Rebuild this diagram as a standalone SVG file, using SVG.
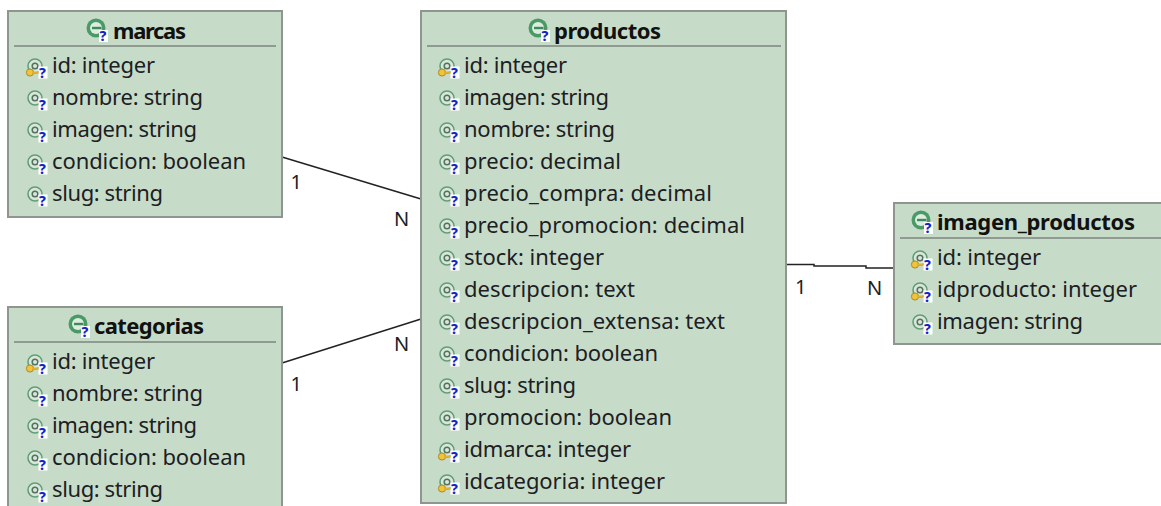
<svg xmlns="http://www.w3.org/2000/svg" width="1161" height="506" viewBox="0 0 1161 506">
<style>
text{font-family:"Noto Sans","Liberation Sans",sans-serif;fill:#1c2024}
.box{fill:#c7dcc8;stroke:#8f9690;stroke-width:2}
.sep{stroke:#7d857e;stroke-width:1.5}
.t{font-size:22px;font-weight:700;fill:#111}
.a{font-size:22px}
.m{font-size:20px}
.c{fill:none;stroke:#222;stroke-width:1.5}
.q{font-size:14px;font-weight:800;fill:#1424c8}
</style>
<defs>
<g id="q"><rect x="0" y="0" width="9" height="12" fill="#fff"/><text class="q" x="0.5" y="11">?</text></g>
<g id="ent"><circle cx="0" cy="0" r="9.5" fill="#4a9a68"/><circle cx="0" cy="0" r="6" fill="#dcecdf"/><rect x="-4" y="-1.2" width="9.5" height="2.4" fill="#3f8a5a"/><use href="#q" x="3" y="2"/></g>
<g id="at"><circle cx="0" cy="0" r="7" fill="#e4efe6" fill-opacity=".6" stroke="#5f9f78" stroke-width="1.6"/><circle cx="0" cy="0" r="2.8" fill="none" stroke="#55705f" stroke-width="1.5"/><use href="#q" x="3.500" y="0.500"/></g>
<g id="key"><use href="#at"/><circle cx="-5" cy="6.5" r="3.6" fill="#f0c33a" stroke="#b08a1a"/><rect x="-3" y="5.5" width="6.500" height="2.2" fill="#e0b030"/></g>
</defs>
<g id="connectors">
<path class="c" d="M282 157L421 199"/>
<path class="c" d="M282 363L421 319"/>
<path class="c" d="M786 264.5H814V266H866V268H894"/>
<text class="m" x="290.500" y="189">1</text>
<text class="m" x="394" y="226">N</text>
<text class="m" x="290.500" y="391">1</text>
<text class="m" x="394" y="351">N</text>
<text class="m" x="795" y="294">1</text>
<text class="m" x="867" y="295">N</text>
</g>
<g id="marcas">
<rect class="box" x="8" y="11" width="274" height="206"/>
<path class="sep" d="M14 46H276"/>
<use href="#ent" x="96" y="28"/>
<text class="t" x="113" y="38.500" textLength="73">marcas</text>
<use href="#key" x="35" y="66"/><text class="a" x="52" y="73" textLength="103">id: integer</text>
<use href="#at" x="35" y="98"/><text class="a" x="52" y="105" textLength="151">nombre: string</text>
<use href="#at" x="35" y="130"/><text class="a" x="52" y="137" textLength="145">imagen: string</text>
<use href="#at" x="35" y="162"/><text class="a" x="52" y="169" textLength="194">condicion: boolean</text>
<use href="#at" x="35" y="194"/><text class="a" x="52" y="201" textLength="111">slug: string</text>
</g>
<g id="categorias">
<rect class="box" x="8" y="307" width="274" height="210"/>
<path class="sep" d="M14 342H276"/>
<use href="#ent" x="78" y="324"/>
<text class="t" x="94" y="334" textLength="110">categorias</text>
<use href="#key" x="35" y="362"/><text class="a" x="52" y="368.500" textLength="103">id: integer</text>
<use href="#at" x="35" y="394"/><text class="a" x="52" y="400.500" textLength="151">nombre: string</text>
<use href="#at" x="35" y="426"/><text class="a" x="52" y="432.500" textLength="145">imagen: string</text>
<use href="#at" x="35" y="458"/><text class="a" x="52" y="464.500" textLength="194">condicion: boolean</text>
<use href="#at" x="35" y="490"/><text class="a" x="52" y="496.500" textLength="111">slug: string</text>
</g>
<g id="productos">
<rect class="box" x="421" y="11" width="365" height="492"/>
<path class="sep" d="M427 46H781"/>
<use href="#ent" x="538" y="28"/>
<text class="t" x="554" y="38.500" textLength="107">productos</text>
<use href="#key" x="447" y="66"/><text class="a" x="464" y="73" textLength="103">id: integer</text>
<use href="#at" x="447" y="98"/><text class="a" x="464" y="105" textLength="145">imagen: string</text>
<use href="#at" x="447" y="130"/><text class="a" x="464" y="137" textLength="151">nombre: string</text>
<use href="#at" x="447" y="162"/><text class="a" x="464" y="169" textLength="157">precio: decimal</text>
<use href="#at" x="447" y="194"/><text class="a" x="464" y="201" textLength="248">precio_compra: decimal</text>
<use href="#at" x="447" y="226"/><text class="a" x="464" y="233" textLength="281">precio_promocion: decimal</text>
<use href="#at" x="447" y="258"/><text class="a" x="464" y="265" textLength="140">stock: integer</text>
<use href="#at" x="447" y="290"/><text class="a" x="464" y="297" textLength="171">descripcion: text</text>
<use href="#at" x="447" y="322"/><text class="a" x="464" y="329" textLength="261">descripcion_extensa: text</text>
<use href="#at" x="447" y="354"/><text class="a" x="464" y="361" textLength="194">condicion: boolean</text>
<use href="#at" x="447" y="386"/><text class="a" x="464" y="393" textLength="112">slug: string</text>
<use href="#at" x="447" y="418"/><text class="a" x="464" y="425" textLength="208">promocion: boolean</text>
<use href="#key" x="447" y="450"/><text class="a" x="464" y="457" textLength="167">idmarca: integer</text>
<use href="#key" x="447" y="482"/><text class="a" x="464" y="489" textLength="201">idcategoria: integer</text>
</g>
<g id="imagen_productos">
<rect class="box" x="894" y="203" width="275" height="141"/>
<path class="sep" d="M900 238H1161"/>
<use href="#ent" x="921" y="220"/>
<text class="t" x="937" y="230" textLength="198">imagen_productos</text>
<use href="#key" x="920" y="258"/><text class="a" x="937" y="265" textLength="104">id: integer</text>
<use href="#key" x="920" y="290"/><text class="a" x="937" y="297" textLength="200">idproducto: integer</text>
<use href="#at" x="920" y="322"/><text class="a" x="937" y="329" textLength="146">imagen: string</text>
</g>
</svg>
